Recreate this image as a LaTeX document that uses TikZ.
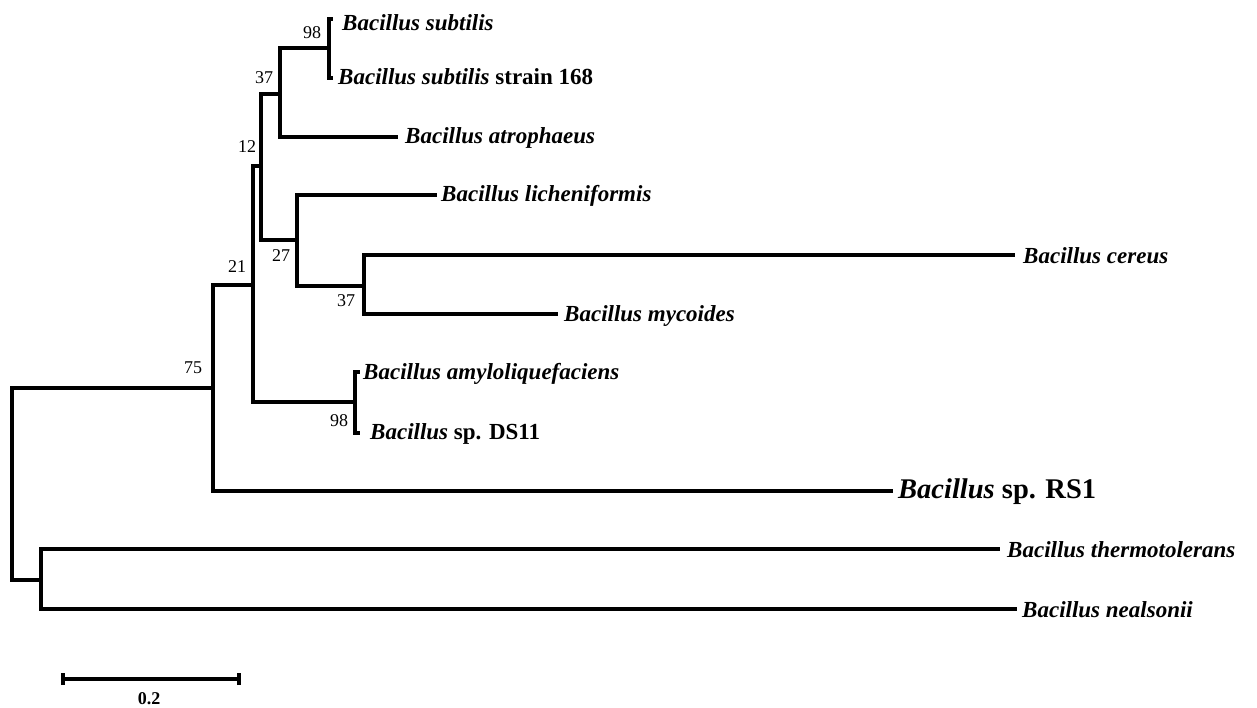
\documentclass[tikz,border=0pt]{standalone}
\usepackage{fontspec}
\setmainfont{Liberation Serif}
\usetikzlibrary{positioning}
\begin{document}
\begin{tikzpicture}[x=1pt,y=-1pt,
  br/.style={line width=3.2pt},
  lab/.style={anchor=west,inner sep=0pt,font=\fontsize{23}{27}\selectfont\bfseries\itshape},
  bigl/.style={anchor=west,inner sep=0pt,font=\fontsize{28.5}{33}\selectfont\bfseries\itshape},
  boot/.style={inner sep=0pt,font=\fontsize{18}{20}\selectfont},
  sclab/.style={inner sep=0pt,font=\fontsize{18}{20}\selectfont\bfseries}]
\useasboundingbox (0,0) rectangle (1257,708);
% internal nodes
\coordinate (r) at (12,484);
\coordinate (n75) at (213,388);
\coordinate (n21) at (253,285);
\coordinate (n12) at (261,166);
\coordinate (n37a) at (280,94);
\coordinate (n98a) at (329,48);
\coordinate (n27) at (297,240);
\coordinate (n37b) at (364,286);
\coordinate (n98b) at (355,402);
\coordinate (nT) at (41,580);
% tips
\coordinate (tSub) at (333,19);
\coordinate (t168) at (333,78);
\coordinate (tAtro) at (398,137);
\coordinate (tLich) at (437,195);
\coordinate (tCer) at (1015,255);
\coordinate (tMyc) at (558,314);
\coordinate (tAmy) at (360,372);
\coordinate (tDS) at (360,433);
\coordinate (tRS) at (893,491);
\coordinate (tTh) at (1000,549);
\coordinate (tNe) at (1017,609);
% branches
\draw[br] (r) |- (n75);
\draw[br] (r) |- (nT);
\draw[br] (n75) |- (n21);
\draw[br] (n75) |- (tRS);
\draw[br] (n21) |- (n12);
\draw[br] (n21) |- (n98b);
\draw[br] (n12) |- (n37a);
\draw[br] (n12) |- (n27);
\draw[br] (n37a) |- (n98a);
\draw[br] (n37a) |- (tAtro);
\draw[br] (n98a) |- (tSub);
\draw[br] (n98a) |- (t168);
\draw[br] (n27) |- (tLich);
\draw[br] (n27) |- (n37b);
\draw[br] (n37b) |- (tCer);
\draw[br] (n37b) |- (tMyc);
\draw[br] (n98b) |- (tAmy);
\draw[br] (n98b) |- (tDS);
\draw[br] (nT) |- (tTh);
\draw[br] (nT) |- (tNe);
% labels
\node[lab] (lSub) at (342,23) {Bacillus subtilis};
\node[lab] (l168) at (338,77) {Bacillus subtilis \upshape strain 168};
\node[lab] (lAtro) at (405,138) {Bacillus atrophaeus};
\node[lab] (lLich) at (441,196) {Bacillus licheniformis};
\node[lab] (lCer) at (1023,256) {Bacillus cereus};
\node[lab] (lMyc) at (564,316) {Bacillus mycoides};
\node[lab] (lAmy) at (363,374) {Bacillus amyloliquefaciens};
\node[lab] (lDS) at (370,434) {Bacillus \upshape sp. DS11};
\node[bigl] (lRS) at (898,492) {Bacillus \upshape sp. RS1};
\node[lab] (lTh) at (1007,550) {Bacillus thermotolerans};
\node[lab] (lNe) at (1022,610) {Bacillus nealsonii};
% bootstrap values
\node[boot] (b98a) at (312,33) {98};
\node[boot] (b37a) at (264,78) {37};
\node[boot] (b12) at (247,147) {12};
\node[boot] (b21) at (237,267) {21};
\node[boot] (b27) at (281,256) {27};
\node[boot] (b37b) at (346,301) {37};
\node[boot] (b75) at (193,368) {75};
\node[boot] (b98b) at (339,421) {98};
% scale bar
\coordinate (s1) at (63,679);
\coordinate (s2) at (239,679);
\draw[br] (s1) -- (s2);
\draw[br] ([yshift=-6]s1) -- ([yshift=6]s1);
\draw[br] ([yshift=-6]s2) -- ([yshift=6]s2);
\node[sclab] (sl) at (149,699) {0.2};
\end{tikzpicture}
\end{document}
